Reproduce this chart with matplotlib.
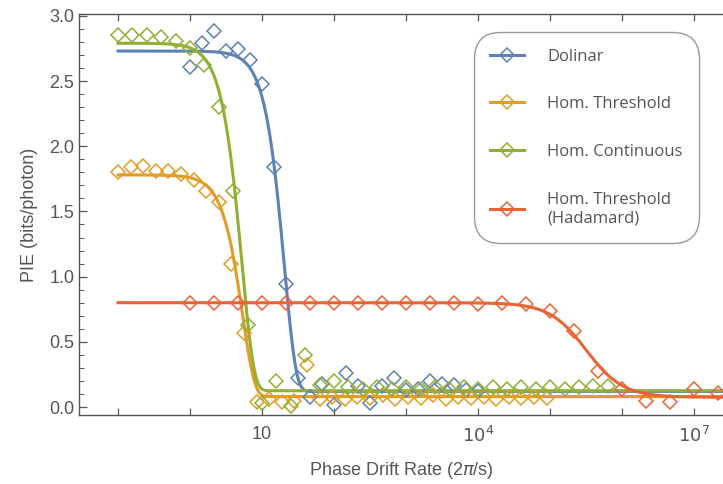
import matplotlib
matplotlib.use("Agg")
import matplotlib.pyplot as plt
import numpy as np
from matplotlib.lines import Line2D

# ---- data ----
# Dolinar
dol_x = [1.0, 1.468, 2.154, 3.162, 4.642, 6.813, 10, 14.68, 21.54, 31.62, 46.42, 68.13,
         100, 146.8, 215.4, 316.2, 464.2, 681.3, 1000, 1468, 2154, 3162, 4642, 6813, 10000]
dol_y = [2.61, 2.79, 2.88, 2.73, 2.745, 2.66, 2.48, 1.84, 0.94, 0.22, 0.08, 0.18,
         0.015, 0.26, 0.16, 0.03, 0.16, 0.22, 0.13, 0.14, 0.20, 0.18, 0.17, 0.13, 0.12]

# Hom. Threshold
thr_x = [0.1, 0.150, 0.224, 0.335, 0.501, 0.750, 1.122, 1.679, 2.512, 3.758, 5.623, 8.414,
         12.59, 18.84, 28.18, 42.17, 63.10, 94.41, 141.3, 211.3, 316.2, 473.2, 707.9, 1059,
         1585, 2371, 3548, 5309, 7943, 11885, 17783, 26607, 39811, 59566, 89125]
thr_y = [1.80, 1.84, 1.85, 1.81, 1.81, 1.79, 1.74, 1.66, 1.57, 1.10, 0.57, 0.04,
         0.06, 0.04, 0.05, 0.32, 0.06, 0.08, 0.06, 0.08, 0.07, 0.09, 0.06, 0.08,
         0.07, 0.09, 0.06, 0.08, 0.07, 0.08, 0.06, 0.08, 0.07, 0.08, 0.07]

# Hom. Continuous
con_x = [0.1, 0.158, 0.251, 0.398, 0.631, 1.0, 1.585, 2.512, 3.981, 6.31, 10, 15.85,
         25.12, 39.81, 63.1, 100, 158.5, 251.2, 398.1, 631, 1000, 1585, 2512, 3981,
         6310, 1e4, 1.585e4, 2.512e4, 3.981e4, 6.31e4, 1e5, 1.585e5, 2.512e5, 3.981e5, 6.31e5]
con_y = [2.85, 2.85, 2.85, 2.84, 2.81, 2.75, 2.62, 2.30, 1.66, 0.63, 0.03, 0.20,
         0.01, 0.40, 0.17, 0.20, 0.15, 0.14, 0.15, 0.14, 0.15, 0.14, 0.15, 0.14,
         0.15, 0.14, 0.15, 0.14, 0.15, 0.14, 0.15, 0.14, 0.15, 0.16, 0.16]

# Hom. Threshold (Hadamard)
had_x = [1, 2.154, 4.642, 10, 21.54, 46.42, 100, 215.4, 464.2, 1000, 2154, 4642,
         1e4, 2.154e4, 4.642e4, 1e5, 2.154e5, 4.642e5, 1e6, 2.154e6, 4.642e6, 1e7, 2.154e7]
had_y = [0.80, 0.80, 0.80, 0.80, 0.80, 0.80, 0.80, 0.80, 0.80, 0.80, 0.80, 0.80,
         0.79, 0.80, 0.79, 0.735, 0.58, 0.277, 0.137, 0.046, 0.04, 0.137, 0.105]

labels = ["Dolinar", "Hom. Threshold", "Hom. Continuous", "Hom. Threshold\n(Hadamard)"]
colors = ["#5E81B5", "#E19C24", "#8FB032", "#EB6235"]

# fit parameters: plateau, floor, log10 of decay rate, exponent
dol_fit = (2.73, 0.12, 1.31, 2.7)
thr_fit = (1.78, 0.08, 0.73, 2.6)
con_fit = (2.79, 0.125, 0.72, 2.6)
had_fit = (0.80, 0.075, 5.50, 1.7)


def stretched(x, p):
    top, low, lx0, n = p
    return low + (top - low) * np.exp(-(x / 10**lx0) ** n)


def logistic(x, p):
    top, low, lx0, n = p
    return low + (top - low) / (1 + (x / 10**lx0) ** n)


plt.rcParams['font.family'] = ['Liberation Sans', 'DejaVu Sans']
fig = plt.figure(figsize=(7.23, 4.84), dpi=100)
ax = fig.add_axes([79 / 723, 1 - 415 / 484, 1 - 79 / 723, (415 - 14) / 484])

xx = np.logspace(-1, 7.45, 600)
fits = [stretched(xx, dol_fit), stretched(xx, thr_fit), stretched(xx, con_fit), logistic(xx, had_fit)]
series = [(dol_x, dol_y), (thr_x, thr_y), (con_x, con_y), (had_x, had_y)]

for (sx, sy), fy, c in zip(series, fits, colors):
    ax.plot(sx, sy, ls="none", marker="D", ms=7, mfc="none", mec=c, mew=1.1, zorder=3)
    ax.plot(xx, fy, color=c, lw=2.2, zorder=2)

ax.set_xscale("log")
ax.set_xlim(10**-1.542, 10**7.40)
ax.set_ylim(-0.061, 3.014)

decades = [10.0**k for k in range(-1, 8)]
ax.set_xticks(decades)
ax.set_xticklabels(["" if k not in (1, 4, 7) else ("10" if k == 1 else f"$10^{{{k}}}$")
                    for k in range(-1, 8)])
ax.xaxis.set_minor_locator(matplotlib.ticker.NullLocator())
ax.set_yticks([0, 0.5, 1.0, 1.5, 2.0, 2.5, 3.0])
ax.set_yticklabels(["0.0", "0.5", "1.0", "1.5", "2.0", "2.5", "3.0"])
ax.yaxis.set_minor_locator(matplotlib.ticker.MultipleLocator(0.1))

grey = "#555555"
ax.tick_params(axis="both", which="both", direction="in", colors=grey, labelcolor=grey,
               labelsize=13, top=True)
ax.tick_params(axis="y", which="major", length=6, width=0.9)
ax.tick_params(axis="y", which="minor", length=3.5, width=0.7)
ax.tick_params(axis="x", which="major", length=5, width=0.9, pad=8)
for s in ["left", "bottom", "top"]:
    ax.spines[s].set_color(grey)
    ax.spines[s].set_linewidth(1.0)
ax.spines["right"].set_visible(False)

ax.set_xlabel("Phase Drift Rate (2$\\pi$/s)", fontsize=13, color=grey, labelpad=10)
ax.set_ylabel("PIE (bits/photon)", fontsize=13, color=grey, labelpad=8)

handles = [Line2D([], [], color=c, lw=2.2, marker="D", ms=7, mfc="none", mec=c, mew=1.1)
           for c in colors]
leg = ax.legend(handles, labels, loc="upper right", bbox_to_anchor=(699 / 723, 1 - 32 / 484),
                bbox_transform=fig.transFigure, borderaxespad=0,
                labelspacing=1.9, handlelength=2.0, handletextpad=1.4, borderpad=1.0,
                fancybox=True, framealpha=1, edgecolor="#999999",
                prop={"family": ["Open Sans", "DejaVu Sans"], "size": 12})
leg.get_frame().set_boxstyle("round,pad=0,rounding_size=1.6")
for t in leg.get_texts():
    t.set_color(grey)

fig.savefig("out.png", dpi=100)
